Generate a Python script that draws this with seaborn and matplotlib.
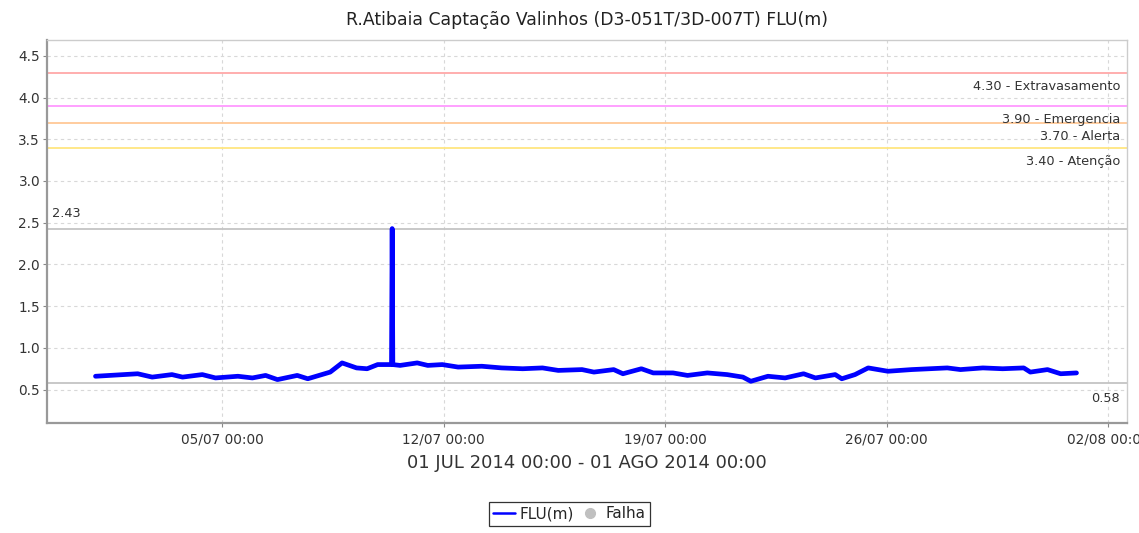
import matplotlib
matplotlib.use("Agg")
import matplotlib.pyplot as plt
import matplotlib.dates as mdates
from matplotlib.lines import Line2D
import seaborn as sns
import pandas as pd

# ---- data ----
times = [
    "2014-07-01 00:00", "2014-07-02 08:00", "2014-07-02 19:00", "2014-07-03 10:00",
    "2014-07-03 18:00", "2014-07-04 09:00", "2014-07-04 19:00", "2014-07-05 12:00",
    "2014-07-05 23:00", "2014-07-06 09:00", "2014-07-06 18:00", "2014-07-07 09:00",
    "2014-07-07 17:00", "2014-07-08 10:00", "2014-07-08 19:00", "2014-07-09 06:00",
    "2014-07-09 14:00", "2014-07-09 22:00", "2014-07-10 08:30", "2014-07-10 09:00",
    "2014-07-10 09:30", "2014-07-10 15:00", "2014-07-11 04:00", "2014-07-11 12:00",
    "2014-07-11 23:00", "2014-07-12 11:00", "2014-07-13 05:00", "2014-07-13 20:00",
    "2014-07-14 12:00", "2014-07-15 03:00", "2014-07-15 15:00", "2014-07-16 09:00",
    "2014-07-16 18:00", "2014-07-17 09:00", "2014-07-17 16:00", "2014-07-18 06:00",
    "2014-07-18 15:00", "2014-07-19 06:00", "2014-07-19 17:00", "2014-07-20 08:00",
    "2014-07-20 23:00", "2014-07-21 11:00", "2014-07-21 17:00", "2014-07-22 06:00",
    "2014-07-22 19:00", "2014-07-23 09:00", "2014-07-23 18:00", "2014-07-24 09:00",
    "2014-07-24 14:00", "2014-07-25 00:00", "2014-07-25 10:00", "2014-07-26 01:00",
    "2014-07-26 19:00", "2014-07-27 22:00", "2014-07-28 08:00", "2014-07-29 01:00",
    "2014-07-29 16:00", "2014-07-30 08:00", "2014-07-30 13:00", "2014-07-31 02:00",
    "2014-07-31 12:00", "2014-08-01 00:00",
]
flu = [
    0.66, 0.69, 0.65, 0.68,
    0.65, 0.68, 0.64, 0.66,
    0.64, 0.67, 0.62, 0.67,
    0.63, 0.71, 0.82, 0.76,
    0.75, 0.80, 0.80, 2.43,
    0.80, 0.79, 0.82, 0.79,
    0.80, 0.77, 0.78, 0.76,
    0.75, 0.76, 0.73, 0.74,
    0.71, 0.74, 0.69, 0.75,
    0.70, 0.70, 0.67, 0.70,
    0.68, 0.65, 0.60, 0.66,
    0.64, 0.69, 0.64, 0.68,
    0.63, 0.68, 0.76, 0.72,
    0.74, 0.76, 0.74, 0.76,
    0.75, 0.76, 0.71, 0.74,
    0.69, 0.70,
]

threshold_values = [4.30, 3.90, 3.70, 3.40]
threshold_names = ["Extravasamento", "Emergencia", "Alerta", "Atenção"]
threshold_colors = ["#ffa8a8", "#ff99ff", "#ffc896", "#ffe680"]

max_value = 2.43
min_value = 0.58

x_ticks = ["2014-07-05", "2014-07-12", "2014-07-19", "2014-07-26", "2014-08-02"]
y_ticks = [0.5, 1.0, 1.5, 2.0, 2.5, 3.0, 3.5, 4.0, 4.5]

title = "R.Atibaia Captação Valinhos (D3-051T/3D-007T) FLU(m)"
xlabel = "01 JUL 2014 00:00 - 01 AGO 2014 00:00"

df = pd.DataFrame({"time": pd.to_datetime(times), "FLU(m)": flu})

# ---- plot ----
sns.set_style("white")
plt.rcParams["font.family"] = ["DejaVu Sans"]

fig = plt.figure(figsize=(11.39, 5.33), dpi=100)
ax = fig.add_axes([0.0413, 0.2064, 0.9482, 0.7186])

for v, name, c in zip(threshold_values, threshold_names, threshold_colors):
    ax.axhline(v, color=c, lw=1.3, zorder=1)
    ax.annotate(f"{v:.2f} - {name}", xy=(0.9935, v), xycoords=("axes fraction", "data"),
                xytext=(0, -10), textcoords="offset points", ha="right", va="center",
                fontsize=9.3, color="#333333")

ax.axhline(max_value, color="#c4c4c4", lw=1.3, zorder=1)
ax.axhline(min_value, color="#c4c4c4", lw=1.3, zorder=1)
ax.annotate(f"{max_value:.2f}", xy=(0.005, max_value), xycoords=("axes fraction", "data"),
            xytext=(0, 11), textcoords="offset points", ha="left", va="center",
            fontsize=9.3, color="#333333")
ax.annotate(f"{min_value:.2f}", xy=(0.9935, min_value), xycoords=("axes fraction", "data"),
            xytext=(0, -11), textcoords="offset points", ha="right", va="center",
            fontsize=9.3, color="#333333")

sns.lineplot(data=df, x="time", y="FLU(m)", ax=ax, color="#0000ff", lw=3.4,
             zorder=3, legend=False)

ax.set_xlim(pd.Timestamp("2014-06-29 11:15"), pd.Timestamp("2014-08-02 14:20"))
ax.set_ylim(0.1, 4.69)
ax.set_xticks(pd.to_datetime(x_ticks))
ax.xaxis.set_major_formatter(mdates.DateFormatter("%d/%m %H:%M"))
ax.set_yticks(y_ticks)
ax.set_yticklabels([f"{t:.1f}" for t in y_ticks])

ax.grid(True, color="#d8d8d8", ls=(0, (3, 3)), lw=0.8)
ax.set_axisbelow(True)
ax.tick_params(axis="both", labelsize=9.8, colors="#888888", labelcolor="#333333",
               length=3, width=0.8, direction="out", bottom=True, left=True)
ax.tick_params(axis="y", pad=2)
ax.tick_params(axis="x", pad=4)

for s in ["left", "bottom"]:
    ax.spines[s].set_color("#999999")
    ax.spines[s].set_linewidth(1.6)
for s in ["top", "right"]:
    ax.spines[s].set_color("#cccccc")
    ax.spines[s].set_linewidth(1.0)

ax.set_title(title, fontsize=12.4, color="#222222", pad=11)
ax.set_xlabel(xlabel, fontsize=13, color="#333333", labelpad=5)
ax.set_ylabel("")

handles = [
    Line2D([0], [0], color="#0000ff", lw=1.8),
    Line2D([0], [0], color="#c0c0c0", marker="o", ls="none", markersize=7),
]
leg = fig.legend(handles, ["FLU(m)", "Falha"], loc="center", bbox_to_anchor=(0.5, 0.036),
                 ncol=2, fontsize=11, frameon=True, fancybox=False, handlelength=1.4,
                 handletextpad=0.3, columnspacing=0.4, borderpad=0.3, borderaxespad=0)
leg.get_frame().set_edgecolor("#000000")
leg.get_frame().set_linewidth(0.9)

fig.savefig("out.png", dpi=100)
